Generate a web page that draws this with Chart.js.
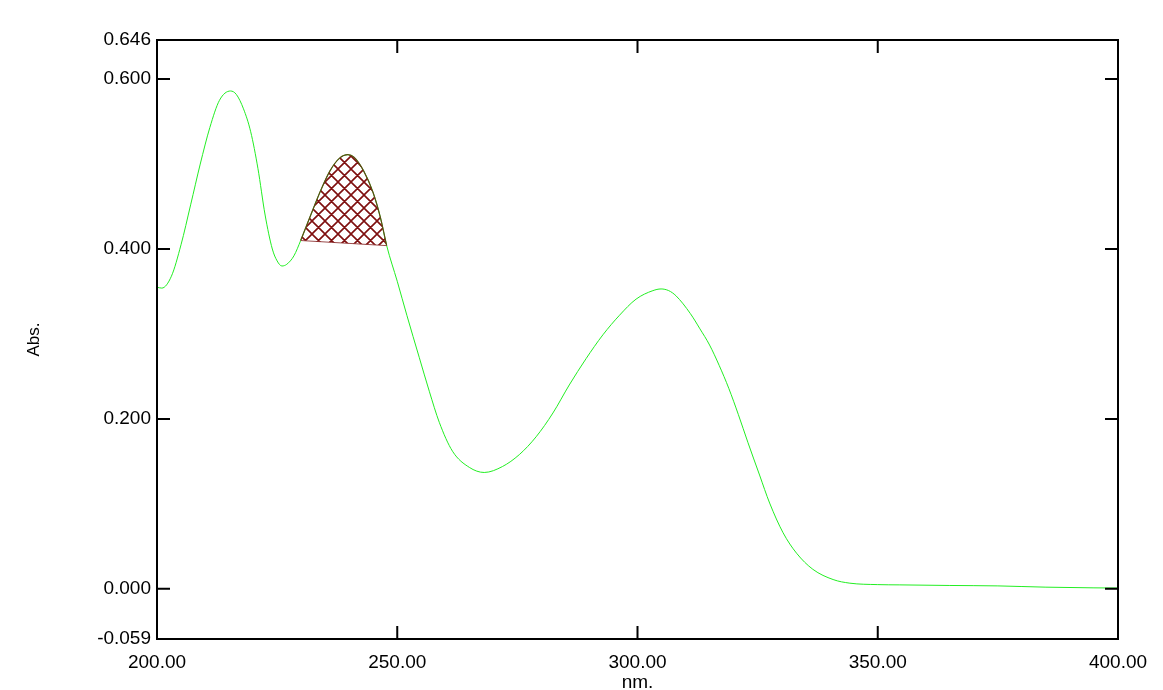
<!DOCTYPE html>
<html>
<head>
<meta charset="utf-8">
<title>Abs. spectrum</title>
<script src="https://cdn.jsdelivr.net/npm/chart.js@4.4.1/dist/chart.umd.min.js"></script>
<style>
  body { margin: 0; background: #fff; }
  #wrap { width: 1163px; height: 690px; }
</style>
</head>
<body>
<div id="wrap"><canvas id="myChart"></canvas></div>
<script>
// spectrum (nm / Abs.)
const wavelengths = [200, 201, 203, 205, 207, 209, 211, 213, 215.3, 216.5, 218, 219.5, 221, 222.5, 224, 225, 226, 227, 228.5,
  229.9, 232, 234, 236, 238, 239.7, 241, 243, 245, 246.5, 247.8,
  250, 252, 254.6, 256.7, 258.75, 261.5, 265, 268.1, 271.9, 275.4, 278.9, 282.4, 285.8, 289.3, 292.8, 296.25, 299.7,
  303.2, 304.9, 306.5, 308, 311, 313, 315, 317, 319, 321, 323, 325.4, 327.5, 330.3, 333.1, 336.5, 340.7, 344.2,
  350, 354.6, 365, 375, 385, 395, 400];
const absorbance = [0.355, 0.354, 0.368, 0.405, 0.452, 0.500, 0.543, 0.575, 0.586, 0.582, 0.565, 0.538, 0.495, 0.440, 0.400, 0.386, 0.380, 0.382, 0.392,
  0.410, 0.440, 0.468, 0.492, 0.507, 0.511, 0.508, 0.492, 0.466, 0.437, 0.404,
  0.362, 0.322, 0.272, 0.232, 0.196, 0.162, 0.143, 0.137, 0.144, 0.158, 0.179, 0.207, 0.240, 0.271, 0.299, 0.322, 0.341,
  0.351, 0.353, 0.351, 0.345, 0.324, 0.306, 0.287, 0.263, 0.236, 0.205, 0.172, 0.134, 0.101, 0.066, 0.042, 0.023, 0.011, 0.0067,
  0.005, 0.0047, 0.0040, 0.0035, 0.0020, 0.0012, 0.001];

// peak area and its baseline
const peakStart = 229.9;
const peakEnd = 247.8;
const baseX = [229.9, 247.8];
const baseY = [0.410, 0.404];

// axes
const xTicks = [200, 250, 300, 350, 400];
const yTicks = [-0.059, 0.000, 0.200, 0.400, 0.600, 0.646];

const curve = wavelengths.map((w, i) => ({x: w, y: absorbance[i]}));
const peak = curve.filter(p => p.x >= peakStart && p.x <= peakEnd);
const baseline = baseX.map((w, i) => ({x: w, y: baseY[i]}));

// cross hatch fill
function hatchPattern() {
  const s = 13;
  const c = document.createElement('canvas');
  c.width = s; c.height = s;
  const g = c.getContext('2d');
  g.strokeStyle = '#7f1010';
  g.lineWidth = 1.6;
  g.beginPath();
  for (let k = -1; k <= 1; k++) {
    g.moveTo(k * s, 0); g.lineTo(k * s + s, s);
    g.moveTo(k * s, s); g.lineTo(k * s + s, 0);
  }
  g.stroke();
  return g.createPattern(c, 'repeat');
}

// frame + inward tick marks
const innerTicks = {
  id: 'innerTicks',
  afterDraw(chart) {
    const {ctx, chartArea: a, scales: {x, y}} = chart;
    const len = 13;
    ctx.save();
    ctx.strokeStyle = '#000';
    ctx.lineWidth = 2;
    ctx.strokeRect(a.left, a.top, a.right - a.left, a.bottom - a.top);
    ctx.beginPath();
    xTicks.slice(1, -1).forEach(v => {
      const px = x.getPixelForValue(v);
      ctx.moveTo(px, a.bottom); ctx.lineTo(px, a.bottom - len);
      ctx.moveTo(px, a.top); ctx.lineTo(px, a.top + len);
    });
    yTicks.slice(1, -1).forEach(v => {
      const py = y.getPixelForValue(v);
      ctx.moveTo(a.left, py); ctx.lineTo(a.left + len, py);
      ctx.moveTo(a.right, py); ctx.lineTo(a.right - len, py);
    });
    ctx.stroke();
    ctx.restore();
  }
};

document.addEventListener('DOMContentLoaded', function () {
  const ctx = document.getElementById('myChart').getContext('2d');
  const family = '"Liberation Sans", Arial, sans-serif';
  const font = {family: family, size: 19};

  new Chart(ctx, {
    type: 'scatter',
    data: {
      datasets: [{
        label: 'peak',
        data: peak,
        showLine: true,
        pointRadius: 0,
        borderColor: '#5c4a14',
        borderWidth: 1.2,
        cubicInterpolationMode: 'monotone',
        backgroundColor: hatchPattern(),
        fill: {target: 1}
      }, {
        label: 'baseline',
        data: baseline,
        showLine: true,
        pointRadius: 0,
        borderColor: '#9a4a4a',
        borderWidth: 1,
        tension: 0
      }, {
        label: 'Abs.',
        data: curve,
        showLine: true,
        pointRadius: 0,
        borderColor: '#22ee22',
        borderWidth: 1,
        cubicInterpolationMode: 'monotone'
      }]
    },
    options: {
      responsive: true,
      maintainAspectRatio: false,
      animation: false,
      layout: {padding: {top: 40, right: 45, left: 0, bottom: 0}},
      plugins: {legend: {display: false}, tooltip: {enabled: false}},
      scales: {
        x: {
          type: 'linear',
          min: 200,
          max: 400,
          grid: {display: false, drawTicks: false},
          border: {display: false},
          afterBuildTicks: s => { s.ticks = xTicks.map(v => ({value: v})); },
          afterFit: s => { s.height = 51; },
          ticks: {
            autoSkip: false,
            maxRotation: 0,
            padding: 12,
            color: '#000',
            font: font,
            callback: v => Number(v).toFixed(2)
          },
          title: {display: true, text: 'nm.', color: '#000', font: {family: family, size: 19, lineHeight: 0.8}, padding: 0}
        },
        y: {
          min: -0.059,
          max: 0.646,
          grid: {display: false, drawTicks: false},
          border: {display: false},
          afterBuildTicks: s => { s.ticks = yTicks.map(v => ({value: v})); },
          afterFit: s => { s.width = 157; },
          ticks: {
            autoSkip: false,
            padding: 6,
            color: '#000',
            font: font,
            callback: v => Number(v).toFixed(3)
          },
          title: {display: true, text: 'Abs.', color: '#000', font: {family: family, size: 17}, padding: {top: 24, bottom: 0}}
        }
      }
    },
    plugins: [innerTicks]
  });
});
</script>
</body>
</html>
